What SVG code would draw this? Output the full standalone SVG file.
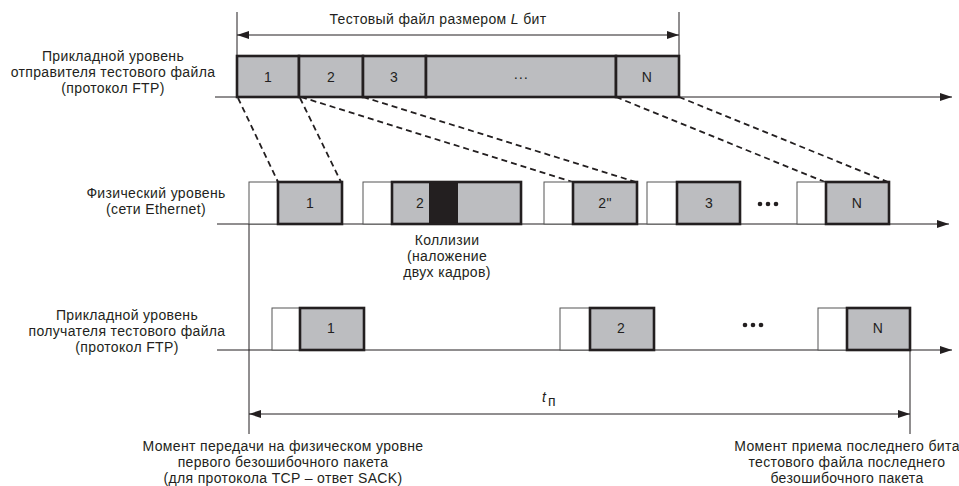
<svg xmlns="http://www.w3.org/2000/svg" width="959" height="486" viewBox="0 0 959 486">
<style>
text{font-family:"Liberation Sans","Noto Sans",sans-serif;font-size:14px;letter-spacing:0.35px;fill:#231f20}
.c{text-anchor:middle}
.g{fill:#bcbdc0;stroke:#231f20;stroke-width:2.6}
.w{fill:#fff;stroke:#555;stroke-width:1}
.ax{stroke:#231f20;stroke-width:1;fill:none}
.d{stroke:#231f20;stroke-width:1.8;stroke-dasharray:6 4;fill:none}
.dot{fill:#231f20}
</style>
<defs>
<marker id="ah" markerUnits="userSpaceOnUse" markerWidth="12" markerHeight="8" refX="12" refY="4" orient="auto-start-reverse"><path d="M0,0 L12,4 L0,8 z" fill="#231f20"/></marker>
</defs>
<rect width="959" height="486" fill="#fff"/>

<g id="labels">
<text class="c" x="113" y="61">Прикладной уровень</text>
<text class="c" x="113" y="77">отправителя тестового файла</text>
<text class="c" x="113" y="93">(протокол FTP)</text>
<text class="c" x="156" y="198">Физический уровень</text>
<text class="c" x="156" y="214">(сети Ethernet)</text>
<text class="c" x="127" y="320">Прикладной уровень</text>
<text class="c" x="127" y="336">получателя тестового файла</text>
<text class="c" x="127" y="352">(протокол FTP)</text>
</g>

<g id="connectors">
<line class="ax" x1="215" y1="97" x2="952" y2="97" marker-end="url(#ah)"/>
<line class="ax" x1="217" y1="224" x2="949" y2="224" marker-end="url(#ah)"/>
<line class="ax" x1="217" y1="350" x2="952" y2="350" marker-end="url(#ah)"/>
<line class="ax" x1="237" y1="12" x2="237" y2="56"/>
<line class="ax" x1="679" y1="12" x2="679" y2="56"/>
<line class="ax" x1="237" y1="35" x2="679" y2="35" marker-start="url(#ah)" marker-end="url(#ah)"/>
<line class="ax" x1="249" y1="224" x2="249" y2="434"/>
<line class="ax" x1="910" y1="350" x2="910" y2="434"/>
<line class="ax" x1="249" y1="414" x2="910" y2="414" marker-start="url(#ah)" marker-end="url(#ah)"/>
<line class="d" x1="238" y1="98" x2="278" y2="182"/>
<line class="d" x1="300" y1="98" x2="341" y2="182"/>
<line class="d" x1="301" y1="97" x2="573" y2="182"/>
<line class="d" x1="363" y1="97" x2="636" y2="182"/>
<line class="d" x1="616" y1="97" x2="825" y2="182"/>
<line class="d" x1="679" y1="97" x2="888" y2="182"/>
</g>

<g id="file-size">
<text class="c" x="438" y="24">Тестовый файл размером <tspan font-style="italic">L</tspan> бит</text>
</g>

<g id="sender">
<rect class="g" x="237" y="56" width="62" height="41"/>
<rect class="g" x="299" y="56" width="64" height="41"/>
<rect class="g" x="363" y="56" width="63" height="41"/>
<rect class="g" x="426" y="56" width="190" height="41"/>
<rect class="g" x="616" y="56" width="63" height="41"/>
<text class="c" x="268" y="82">1</text>
<text class="c" x="331" y="82">2</text>
<text class="c" x="394" y="82">3</text>
<text class="c" x="521" y="82">···</text>
<text class="c" x="647" y="82">N</text>
</g>

<g id="physical">
<rect class="w" x="249" y="182" width="29" height="42"/>
<rect class="g" x="278" y="182" width="64" height="42"/>
<text class="c" x="310" y="208">1</text>
<rect class="w" x="363" y="182" width="29" height="42"/>
<rect x="392" y="182" width="129" height="42" fill="#bcbdc0"/>
<rect x="429" y="182" width="29" height="42" fill="#231f20"/>
<rect x="392" y="182" width="129" height="42" fill="none" stroke="#231f20" stroke-width="2.6"/>
<text class="c" x="420" y="208">2</text>
<rect class="w" x="544" y="182" width="29" height="42"/>
<rect class="g" x="573" y="182" width="64" height="42"/>
<text class="c" x="605" y="208">2"</text>
<rect class="w" x="647" y="182" width="30" height="42"/>
<rect class="g" x="677" y="182" width="63" height="42"/>
<text class="c" x="709" y="208">3</text>
<circle class="dot" cx="760" cy="204" r="2.3"/>
<circle class="dot" cx="768" cy="204" r="2.3"/>
<circle class="dot" cx="776" cy="204" r="2.3"/>
<rect class="w" x="797" y="182" width="29" height="42"/>
<rect class="g" x="826" y="182" width="63" height="42"/>
<text class="c" x="857" y="208">N</text>
<text class="c" x="447" y="245">Коллизии</text>
<text class="c" x="447" y="261">(наложение</text>
<text class="c" x="447" y="277">двух кадров)</text>
</g>

<g id="receiver">
<rect class="w" x="272" y="308" width="28" height="42"/>
<rect class="g" x="300" y="308" width="64" height="42"/>
<text class="c" x="331" y="333">1</text>
<rect class="w" x="560" y="308" width="30" height="42"/>
<rect class="g" x="590" y="308" width="64" height="42"/>
<text class="c" x="621" y="333">2</text>
<circle class="dot" cx="745" cy="325" r="2.3"/>
<circle class="dot" cx="753" cy="325" r="2.3"/>
<circle class="dot" cx="761" cy="325" r="2.3"/>
<rect class="w" x="818" y="308" width="29" height="42"/>
<rect class="g" x="847" y="308" width="63" height="42"/>
<text class="c" x="878" y="333">N</text>
</g>

<g id="duration">
<text x="542" y="402" font-style="italic">t</text><text x="548" y="406" font-size="11">п</text>
</g>

<g id="notes">
<text class="c" x="283" y="451">Момент передачи на физическом уровне</text>
<text class="c" x="283" y="467">первого безошибочного пакета</text>
<text class="c" x="283" y="483">(для протокола TCP – ответ SACK)</text>
<text class="c" x="847" y="451">Момент приема последнего бита</text>
<text class="c" x="847" y="467">тестового файла последнего</text>
<text class="c" x="847" y="483">безошибочного пакета</text>
</g>
</svg>
